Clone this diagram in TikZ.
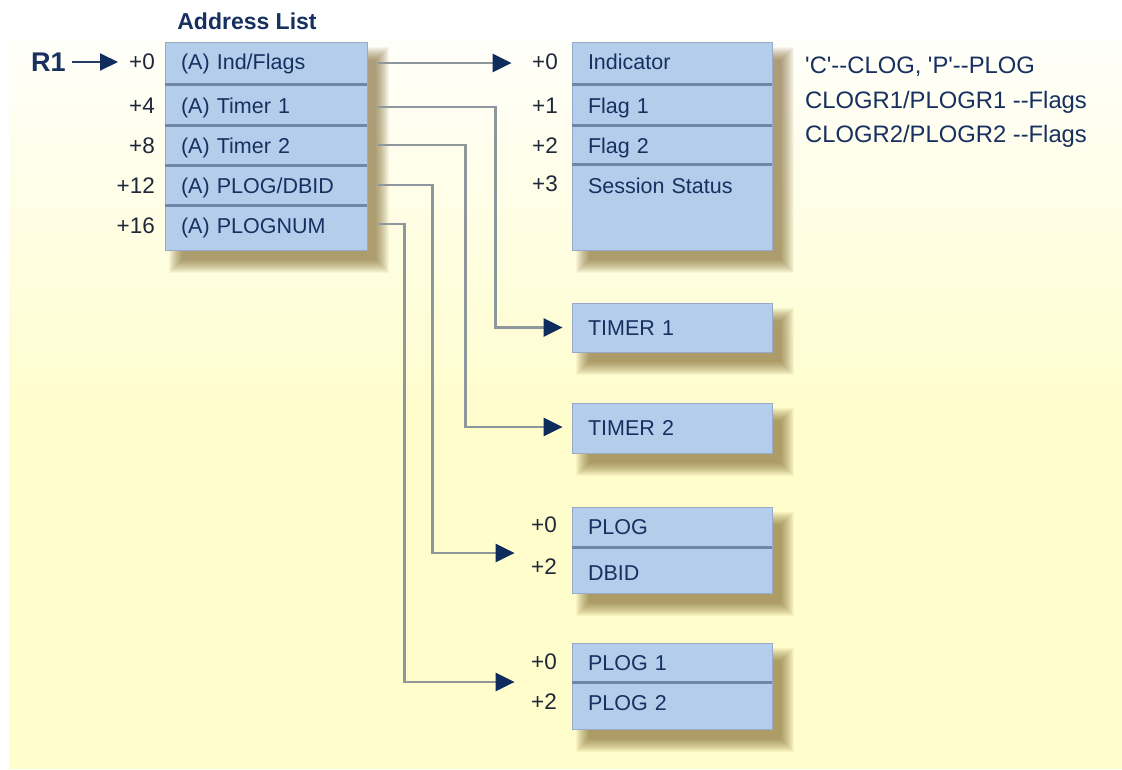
\documentclass[tikz,border=0pt]{standalone}
\usepackage{fontspec}
\setmainfont{Liberation Sans}[Ligatures=TeXOff]
\usetikzlibrary{arrows.meta,calc}
\pgfdeclarelayer{bglayer}
\pgfdeclarelayer{shadowlayer}
\pgfsetlayers{bglayer,shadowlayer,main}
\definecolor{bgyellow}{HTML}{FFFDCC}
\definecolor{boxblue}{HTML}{B3CDEB}
\definecolor{boxborder}{HTML}{97ABC8}
\definecolor{divcol}{HTML}{6F86A6}
\definecolor{navy}{HTML}{0E2D5C}
\definecolor{txt}{HTML}{173060}
\definecolor{offcol}{HTML}{1E2838}
\definecolor{linegrey}{HTML}{8E989C}
\definecolor{shadowcol}{HTML}{6B4E10}
\newcommand{\boxshadow}[1]{%
  \begin{pgfonlayer}{shadowlayer}
  \foreach \i in {0,...,13} {
    \fill[shadowcol, opacity=0.05]
      ($(#1.north west)+(4+\i,5+\i)$) rectangle ($(#1.south east)+(22-\i,23-\i)$);
  }
  \end{pgfonlayer}}
\begin{document}
\begin{tikzpicture}[x=1pt,y=-1pt,
  frame/.style={draw=boxborder, fill=boxblue, line width=0.8pt},
  cell/.style={inner xsep=16pt, inner ysep=0pt, text width=168pt, align=left,
    font=\fontsize{21.5}{24}\selectfont, text=txt, text height=15pt, text depth=0pt},
  off/.style={anchor=east, inner sep=0pt, font=\fontsize{22.5}{25}\selectfont, text=offcol,
    text height=15.5pt, text depth=0pt},
  note/.style={anchor=west, inner sep=0pt, font=\fontsize{23.8}{26}\selectfont, text=txt,
    text height=16pt, text depth=0pt},
  divider/.style={draw=divcol, line width=2.5pt},
  conn/.style={draw=linegrey, line width=2.5pt, -{Triangle[length=19pt,width=18pt,color=navy]}},
  r1conn/.style={draw=navy!80!gray, line width=2pt, -{Triangle[length=18pt,width=17pt,color=navy]}}
]
\useasboundingbox (0,0) rectangle (1122,769);
\begin{pgfonlayer}{bglayer}
\fill[white] (0,0) rectangle (1122,769);
\shade[top color=bgyellow!10, bottom color=bgyellow] (9,40) rectangle (1122,420);
\fill[bgyellow] (9,419.5) rectangle (1122,769);
\end{pgfonlayer}

% title and R1
\node[inner sep=0pt, font=\bfseries\fontsize{23}{26}\selectfont, text=txt, text height=16.5pt, text depth=0pt] (title) at (247,21.5) {Address List};
\node[inner sep=0pt, font=\bfseries\fontsize{27}{30}\selectfont, text=txt, text height=19pt, text depth=0pt] (r1) at (48.5,62) {R1};
\coordinate (r1tip) at (118,62);
\draw[r1conn] ($(r1.east)+(6,0)$) -- (r1tip);

% Address list
\node[frame, minimum width=202pt, minimum height=208pt] (AL) at (266,146) {};
\boxshadow{AL}
\draw[divider] ($(AL.north west)+(0,43)$) -- ($(AL.north east)+(0,43)$);
\draw[divider] ($(AL.north west)+(0,84)$) -- ($(AL.north east)+(0,84)$);
\draw[divider] ($(AL.north west)+(0,124)$) -- ($(AL.north east)+(0,124)$);
\draw[divider] ($(AL.north west)+(0,164)$) -- ($(AL.north east)+(0,164)$);
\node[cell, text width=170pt] (a0) at (266,62) {(A) Ind/Flags};
\node[cell, text width=170pt] (a1) at (266,106) {(A) Timer 1};
\node[cell, text width=170pt] (a2) at (266,146) {(A) Timer 2};
\node[cell, text width=170pt] (a3) at (266,186) {(A) PLOG/DBID};
\node[cell, text width=170pt] (a4) at (266,226) {(A) PLOGNUM};
\node[off] (o0) at (155,62) {+0};
\node[off] (o4) at (155,106) {+4};
\node[off] (o8) at (155,146) {+8};
\node[off] (o12) at (155,186) {+12};
\node[off] (o16) at (155,226) {+16};

% Indicator box
\node[frame, minimum width=200pt, minimum height=208pt] (B) at (672,146) {};
\boxshadow{B}
\draw[divider] ($(B.north west)+(0,43)$) -- ($(B.north east)+(0,43)$);
\draw[divider] ($(B.north west)+(0,84)$) -- ($(B.north east)+(0,84)$);
\draw[divider] ($(B.north west)+(0,123)$) -- ($(B.north east)+(0,123)$);
\node[cell] (b0) at (672,62) {Indicator};
\node[cell] (b1) at (672,106) {Flag 1};
\node[cell] (b2) at (672,146) {Flag 2};
\node[cell] (b3) at (672,186) {Session Status};
\node[off] (bo0) at (558,62) {+0};
\node[off] (bo1) at (558,106) {+1};
\node[off] (bo2) at (558,146) {+2};
\node[off] (bo3) at (558,184) {+3};

% notes
\node[note] (n1) at (805,65.5) {'C'--CLOG, 'P'--PLOG};
\node[note] (n2) at (805,100) {CLOGR1/PLOGR1 --Flags};
\node[note] (n3) at (805,134) {CLOGR2/PLOGR2 --Flags};

% Timer boxes
\node[frame, cell, minimum width=200pt, minimum height=49pt] (T1) at (672,327.5) {TIMER 1};
\boxshadow{T1}
\node[frame, cell, minimum width=200pt, minimum height=50pt] (T2) at (672,428) {TIMER 2};
\boxshadow{T2}

% PLOG / DBID
\node[frame, minimum width=200pt, minimum height=86pt] (P) at (672,550) {};
\boxshadow{P}
\draw[divider] ($(P.north west)+(0,41)$) -- ($(P.north east)+(0,41)$);
\node[cell] (p0) at (672,527) {PLOG};
\node[cell] (p1) at (672,573) {DBID};
\node[off] (po0) at (557,525) {+0};
\node[off] (po2) at (557,567) {+2};

% PLOG 1 / PLOG 2
\node[frame, minimum width=200pt, minimum height=86pt] (Q) at (672,686) {};
\boxshadow{Q}
\draw[divider] ($(Q.north west)+(0,40)$) -- ($(Q.north east)+(0,40)$);
\node[cell] (q0) at (672,663) {PLOG 1};
\node[cell] (q1) at (672,703) {PLOG 2};
\node[off] (qo0) at (557,662) {+0};
\node[off] (qo2) at (557,702) {+2};

% connectors
\coordinate (s0) at ($(AL.east |- a0)+(11,1)$);
\coordinate (s1) at ($(AL.east |- a1)+(11,1)$);
\coordinate (s2) at ($(AL.east |- a2)+(11,-1)$);
\coordinate (s3) at ($(AL.east |- a3)+(11,-1)$);
\coordinate (s4) at ($(AL.east |- a4)+(11,-2)$);
\coordinate (e0) at ($(B.west |- s0)+(-60,0)$);
\coordinate (e1) at ($(T1.west)+(-9,0)$);
\coordinate (e2) at ($(T2.west)+(-9,-1)$);
\coordinate (e3) at ($(P.west)+(-57,3)$);
\coordinate (e4) at ($(Q.west)+(-57,-4)$);
\coordinate (k1) at ($(e1)+(-67,0)$);
\coordinate (k2) at ($(e2)+(-97,0)$);
\coordinate (k3) at ($(e3)+(-82,0)$);
\coordinate (k4) at ($(e4)+(-110,0)$);
\draw[conn] (s0) -- (e0);
\draw[conn] (s1) -| (k1) -- (e1);
\draw[conn] (s2) -| (k2) -- (e2);
\draw[conn] (s3) -| (k3) -- (e3);
\draw[conn] (s4) -| (k4) -- (e4);
\end{tikzpicture}
\end{document}
